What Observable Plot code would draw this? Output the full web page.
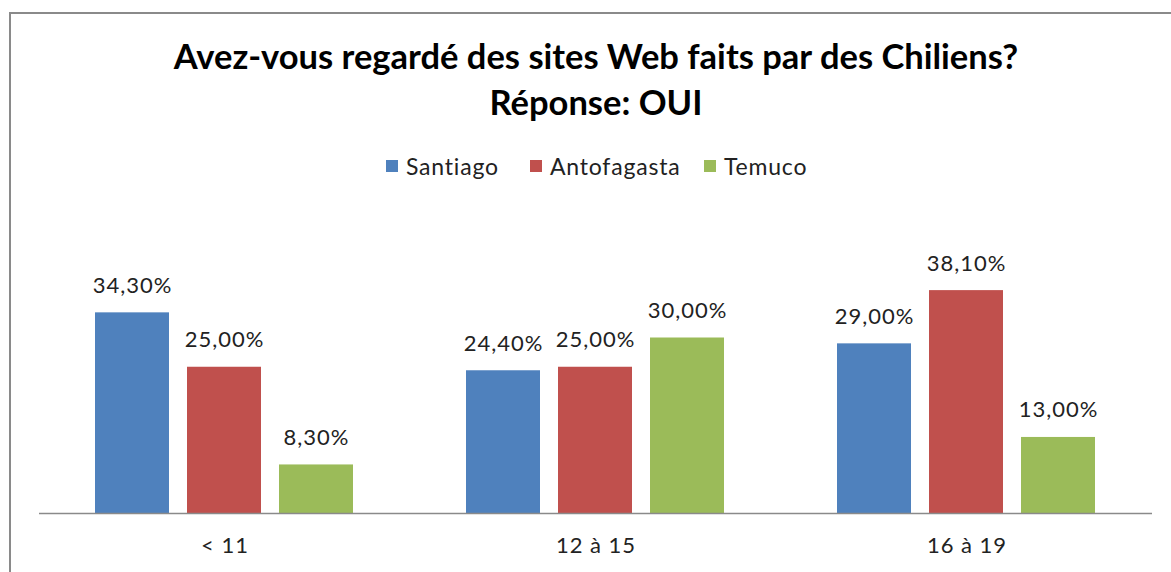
<!DOCTYPE html>
<html>
<head>
<meta charset="utf-8">
<script src="https://cdn.jsdelivr.net/npm/d3@7"></script>
<script src="https://cdn.jsdelivr.net/npm/@observablehq/plot@0.6"></script>
<style>
  body { margin: 0; background: #fff; font-family: Lato, "Open Sans", sans-serif; }
  #wrap { position: relative; width: 1171px; height: 572px; overflow: hidden; background: #fff; }
  #frame { position: absolute; left: 9px; top: 12px; width: 1300px; height: 700px; border: 2px solid #8a8a8a; box-sizing: border-box; }
  #title { position: absolute; left: 0; width: 1192px; top: 33px; text-align: center; font-weight: bold; font-size: 34.5px; line-height: 46px; color: #000; }
  #legend { position: absolute; top: 151px; left: 0; width: 1171px; height: 30px; font-size: 23px; letter-spacing: 0.8px; color: #222; }
  .item { position: absolute; top: 0; display: flex; align-items: center; height: 30px; }
  .sw { width: 12px; height: 12px; margin-right: 8px; }
  #chart { position: absolute; left: 0; top: 180px; }
</style>
</head>
<body>
<div id="wrap">
  <div id="frame"></div>
  <div id="title">Avez-vous regardé des sites Web faits par des Chiliens?<br>Réponse: OUI</div>
  <div id="legend"></div>
  <div id="chart"></div>
</div>
<script>
const categories = ["< 11", "12 à 15", "16 à 19"];
const series = ["Santiago", "Antofagasta", "Temuco"];
const colors = ["#4F81BD", "#C0504D", "#9BBB59"];
const santiago = [34.3, 24.4, 29.0];
const antofagasta = [25.0, 25.0, 38.1];
const temuco = [8.3, 30.0, 13.0];

const values = [santiago, antofagasta, temuco];
const data = [];
categories.forEach((c, i) => series.forEach((s, j) => data.push({cat: c, city: s, v: values[j][i]})));
const fmt = v => v.toFixed(2).replace(".", ",") + "%";

// legend
const legendX = [386, 530, 704];
const legend = document.getElementById("legend");
series.forEach((s, j) => {
  const d = document.createElement("div");
  d.className = "item";
  d.style.left = legendX[j] + "px";
  d.innerHTML = `<div class="sw" style="background:${colors[j]}"></div><span>${s}</span>`;
  legend.appendChild(d);
});

const chart = Plot.plot({
  width: 1171,
  height: 392,
  marginTop: 99,
  marginBottom: 59,
  marginLeft: 38,
  marginRight: 18,
  style: {fontFamily: "Lato, 'Open Sans', sans-serif", fontSize: "22px", letterSpacing: "1px", color: "#222", background: "transparent"},
  fx: {domain: categories, padding: 0, label: null, tickSize: 0, tickPadding: 24, axis: "bottom"},
  x: {domain: series, axis: null, paddingInner: 0.195, paddingOuter: 0.607},
  y: {domain: [0, 40], axis: null},
  color: {domain: series, range: colors},
  marks: [
    Plot.barY(data, {fx: "cat", x: "city", y: "v", fill: "city"}),
    Plot.ruleY([0], {stroke: "#8a8a8a", strokeWidth: 1.5}),
    Plot.text(data, {fx: "cat", x: "city", y: "v", text: d => fmt(d.v), lineAnchor: "bottom", dy: -20, fill: "#222", fontSize: 22})
  ]
});
document.getElementById("chart").appendChild(chart);
</script>
</body>
</html>
